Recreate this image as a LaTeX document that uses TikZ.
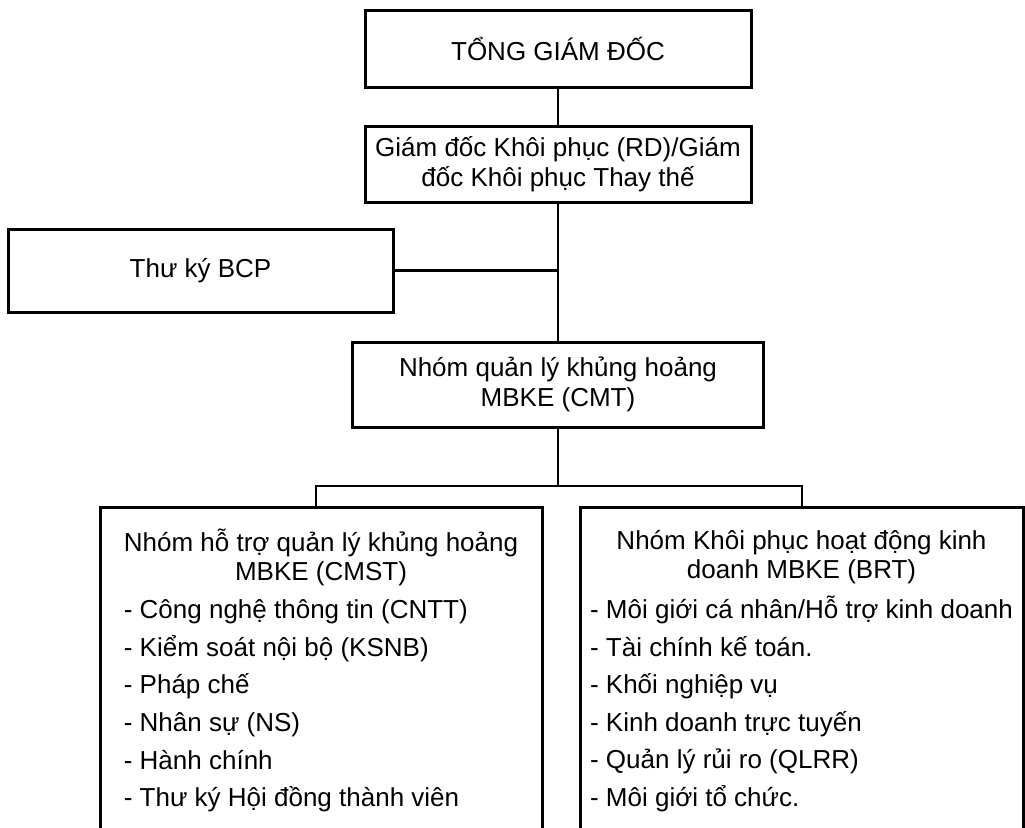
\documentclass[tikz,border=0pt]{standalone}
\usepackage{fontspec}
\setmainfont{Liberation Sans}
\begin{document}
\begin{tikzpicture}[x=1pt,y=-1pt,
  box/.style={draw,line width=3pt,align=center,inner sep=0pt,
    font=\fontsize{26}{29.5}\selectfont},
  groupbox/.style={draw,line width=3pt,anchor=north,inner xsep=0pt,
    inner ysep=21.3pt,minimum width=442pt,font=\fontsize{26}{29.5}\selectfont},
  link/.style={line width=2.4pt}]
\clip (0,0) rectangle (1025,827);
\node[box,minimum width=386pt,minimum height=77pt] (tgd) at (558,48.5) {TỔNG GIÁM ĐỐC};
\node[box,minimum width=386pt,minimum height=76pt] (rd) at (558,164)
  {Giám đốc Khôi phục (RD)/Giám\\đốc Khôi phục Thay thế};
\node[box,minimum width=385pt,minimum height=83pt] (tk) at (200.5,270.5) {Thư ký BCP};
\node[box,minimum width=411pt,minimum height=85pt] (cmt) at (558,384.5)
  {Nhóm quản lý khủng hoảng\\MBKE (CMT)};
\node[groupbox] (cmst) at (321,506) {\begin{tabular}{@{}l@{}}
  \multicolumn{1}{@{}c@{}}{Nhóm hỗ trợ quản lý khủng hoảng}\\
  \multicolumn{1}{@{}c@{}}{MBKE (CMST)}\\[8.1pt]
  - Công nghệ thông tin (CNTT)\\[8.1pt]
  - Kiểm soát nội bộ (KSNB)\\[8.1pt]
  - Pháp chế\\[8.1pt]
  - Nhân sự (NS)\\[8.1pt]
  - Hành chính\\[8.1pt]
  - Thư ký Hội đồng thành viên
\end{tabular}};
\node[groupbox,minimum width=443pt] (brt) at (801.5,506) {\begin{tabular}{@{}l@{}}
  \multicolumn{1}{@{}c@{}}{Nhóm Khôi phục hoạt động kinh}\\
  \multicolumn{1}{@{}c@{}}{doanh MBKE (BRT)}\\[8.1pt]
  - Môi giới cá nhân/Hỗ trợ kinh doanh\\[8.1pt]
  - Tài chính kế toán.\\[8.1pt]
  - Khối nghiệp vụ\\[8.1pt]
  - Kinh doanh trực tuyến\\[8.1pt]
  - Quản lý rủi ro (QLRR)\\[8.1pt]
  - Môi giới tổ chức.
\end{tabular}};
% connectors
\coordinate (j) at (rd.south |- tk.east);
\coordinate (bus) at (558,486);
\coordinate (bl) at (316,486);
\coordinate (br) at (802,486);
\draw[link] (tgd.south) -- (rd.north);
\draw[link] (rd.south) -- (cmt.north);
\draw[link] (tk.east) -- (j);
\draw[link] (cmt.south) -- (bus);
\draw[link] (bl |- cmst.north) -- (bl) -- (br) -- (br |- brt.north);
\end{tikzpicture}
\end{document}
